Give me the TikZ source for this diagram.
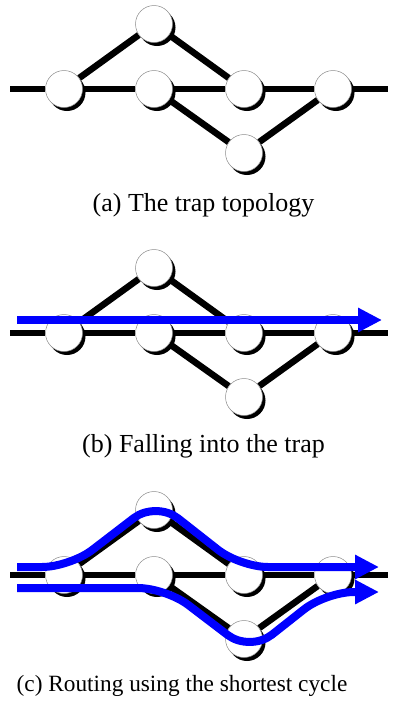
\documentclass[tikz,border=0pt]{standalone}
\usepackage{fontspec}
\setmainfont{Liberation Serif}
\usetikzlibrary{arrows.meta,shadows}
\pgfdeclarelayer{bg}
\pgfsetlayers{bg,main}
\newcommand\trapgraph[2]{%
\begin{scope}[shift={(0,#2)}]
\coordinate (#1l) at (10,89);
\coordinate (#1r) at (388,89);
\node[vtx] (#1a) at (64,89) {};
\node[vtx] (#1b) at (154,89) {};
\node[vtx] (#1c) at (244,89) {};
\node[vtx] (#1d) at (333,89) {};
\node[vtx] (#1t) at (154,24) {};
\node[vtx] (#1u) at (244,153) {};
\begin{pgfonlayer}{bg}
\draw[edge] (#1l) -- (#1a) -- (#1b) -- (#1c) -- (#1d) -- (#1r);
\draw[edge] (#1a) -- (#1t) -- (#1c);
\draw[edge] (#1b) -- (#1u) -- (#1d);
\end{pgfonlayer}
\end{scope}}
\begin{document}
\begin{tikzpicture}[x=1pt,y=-1pt,
 vtx/.style={circle,minimum size=37pt,inner sep=0pt,fill=white,draw=black!45,line width=0.5pt,
   drop shadow={shadow xshift=3pt,shadow yshift=-3.5pt,fill=black,opacity=1}},
 edge/.style={line width=6.5pt},
 route/.style={line width=8pt,draw=blue,-{Triangle[length=24pt,width=23pt]}},
 captext/.style={font=\fontsize{26}{30}\selectfont,inner sep=0pt}]
\useasboundingbox (0,0) rectangle (393,705);
\trapgraph{p}{0}
\node[captext] (capa) at (203.5,205) {(a) The trap topology};
\trapgraph{q}{244}
\coordinate (qs) at (17,320);
\coordinate (qe) at (382,320);
\draw[route] (qs) -- (qe);
\node[captext] (capb) at (203.5,446) {(b) Falling into the trap};
\trapgraph{r}{486}
\coordinate (rs1) at (17,567);
\coordinate (re1) at (379,567);
\coordinate (rs2) at (17,588);
\coordinate (re2) at (379,592);
\draw[route,rounded corners=28pt] (rs1) -- (70,567) -- (156,501) -- (240,567) -- (re1);
\draw[route,rounded corners=28pt] (rs2) -- (166,588) -- (250,652) -- (326,592) -- (re2);
\node[captext,font=\fontsize{23.3}{28}\selectfont] (capc) at (182,686) {(c) Routing using the shortest cycle};
\end{tikzpicture}
\end{document}
